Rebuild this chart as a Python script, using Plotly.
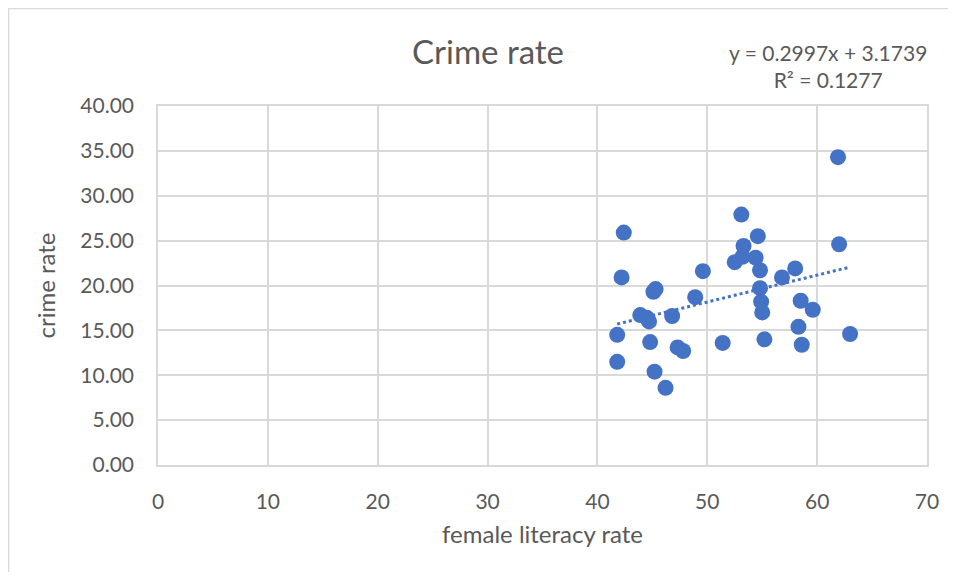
import plotly.graph_objects as go

literacy = [61.9, 53.1, 42.4, 53.3, 54.6, 62.0, 42.2, 52.5, 53.2, 54.4,
            54.8, 56.8, 58.0, 54.8, 54.9, 55.0, 58.5, 59.6, 58.3, 55.2,
            58.6, 63.0, 51.4, 45.1, 45.3, 49.6, 48.9, 43.9, 44.5, 44.7,
            46.8, 41.8, 44.8, 47.3, 47.8, 41.8, 45.2, 46.2]
crime = [34.3, 27.9, 25.9, 24.4, 25.5, 24.6, 20.9, 22.6, 23.2, 23.1,
         21.7, 20.9, 21.9, 19.7, 18.2, 17.0, 18.3, 17.3, 15.4, 14.0,
         13.4, 14.6, 13.6, 19.3, 19.6, 21.6, 18.7, 16.7, 16.4, 16.0,
         16.6, 14.5, 13.7, 13.1, 12.7, 11.5, 10.4, 8.6]

slope = 0.2997
intercept = 3.1739
r2 = 0.1277

x_tick_vals = [0, 10, 20, 30, 40, 50, 60, 70]
y_tick_vals = [0, 5, 10, 15, 20, 25, 30, 35, 40]

blue = "#4472C4"
grid = "#d9d9d9"
txt = "#595959"
font_family = "Lato, 'Open Sans', sans-serif"

# plot area in figure pixels (page body adds an 8px offset)
L, R, T, B = 150, 919, 98, 457
W, H = 940, 564

x_lo, x_hi = min(literacy), max(literacy)
trend_x = [x_lo, x_hi]
trend_y = [slope * v + intercept for v in trend_x]

fig = go.Figure()
fig.add_trace(go.Scatter(
    x=trend_x, y=trend_y, mode="lines",
    line=dict(color=blue, width=3, dash="dot"),
    hoverinfo="skip", showlegend=False))
fig.add_trace(go.Scatter(
    x=literacy, y=crime, mode="markers",
    marker=dict(color=blue, size=16, line=dict(width=0)),
    showlegend=False))

fig.update_layout(
    width=W, height=H,
    margin=dict(l=L, r=W - R, t=T, b=H - B, autoexpand=False),
    paper_bgcolor="white", plot_bgcolor="white",
    font=dict(family=font_family, color=txt, size=21),
    title=dict(text="Crime rate", x=480 / W, xanchor="center",
               y=1 - 44 / H, yanchor="middle",
               font=dict(size=33, color=txt, family=font_family)),
    xaxis=dict(range=[0, 70], tickvals=x_tick_vals,
               ticktext=[str(v) for v in x_tick_vals],
               showgrid=True, gridcolor=grid, gridwidth=1.5,
               zeroline=False, showline=True, linecolor=grid, linewidth=1.5,
               mirror=True, ticks="", ticklabelstandoff=17, automargin=False,
               tickfont=dict(size=21, color=txt),
               title=dict(text="female literacy rate", standoff=14,
                          font=dict(size=24, color=txt))),
    yaxis=dict(range=[0, 40], tickvals=y_tick_vals,
               ticktext=["%.2f" % v for v in y_tick_vals],
               showgrid=True, gridcolor=grid, gridwidth=1.5,
               zeroline=False, showline=True, linecolor=grid, linewidth=1.5,
               mirror=True, ticks="", ticklabelstandoff=18, automargin=False,
               tickfont=dict(size=21, color=txt),
               title=dict(text="crime rate", standoff=18,
                          font=dict(size=24, color=txt))),
)

fig.add_annotation(
    text="y = %.4fx + %.4f<br>R² = %.4f" % (slope, intercept, r2),
    xref="paper", yref="paper",
    x=(820 - L) / (R - L), y=(B - 58) / (B - T),
    xanchor="center", yanchor="middle", showarrow=False, align="center",
    font=dict(size=21, color=txt, family=font_family))

# chart border (top and left edges visible)
fig.add_shape(type="rect", xref="paper", yref="paper",
              x0=(0 - L) / (R - L), x1=(990 - L) / (R - L),
              y0=(B - 620) / (B - T), y1=(B - 0) / (B - T),
              line=dict(color=grid, width=2.5), fillcolor="rgba(0,0,0,0)",
              layer="below")

fig.write_html("out.html")
